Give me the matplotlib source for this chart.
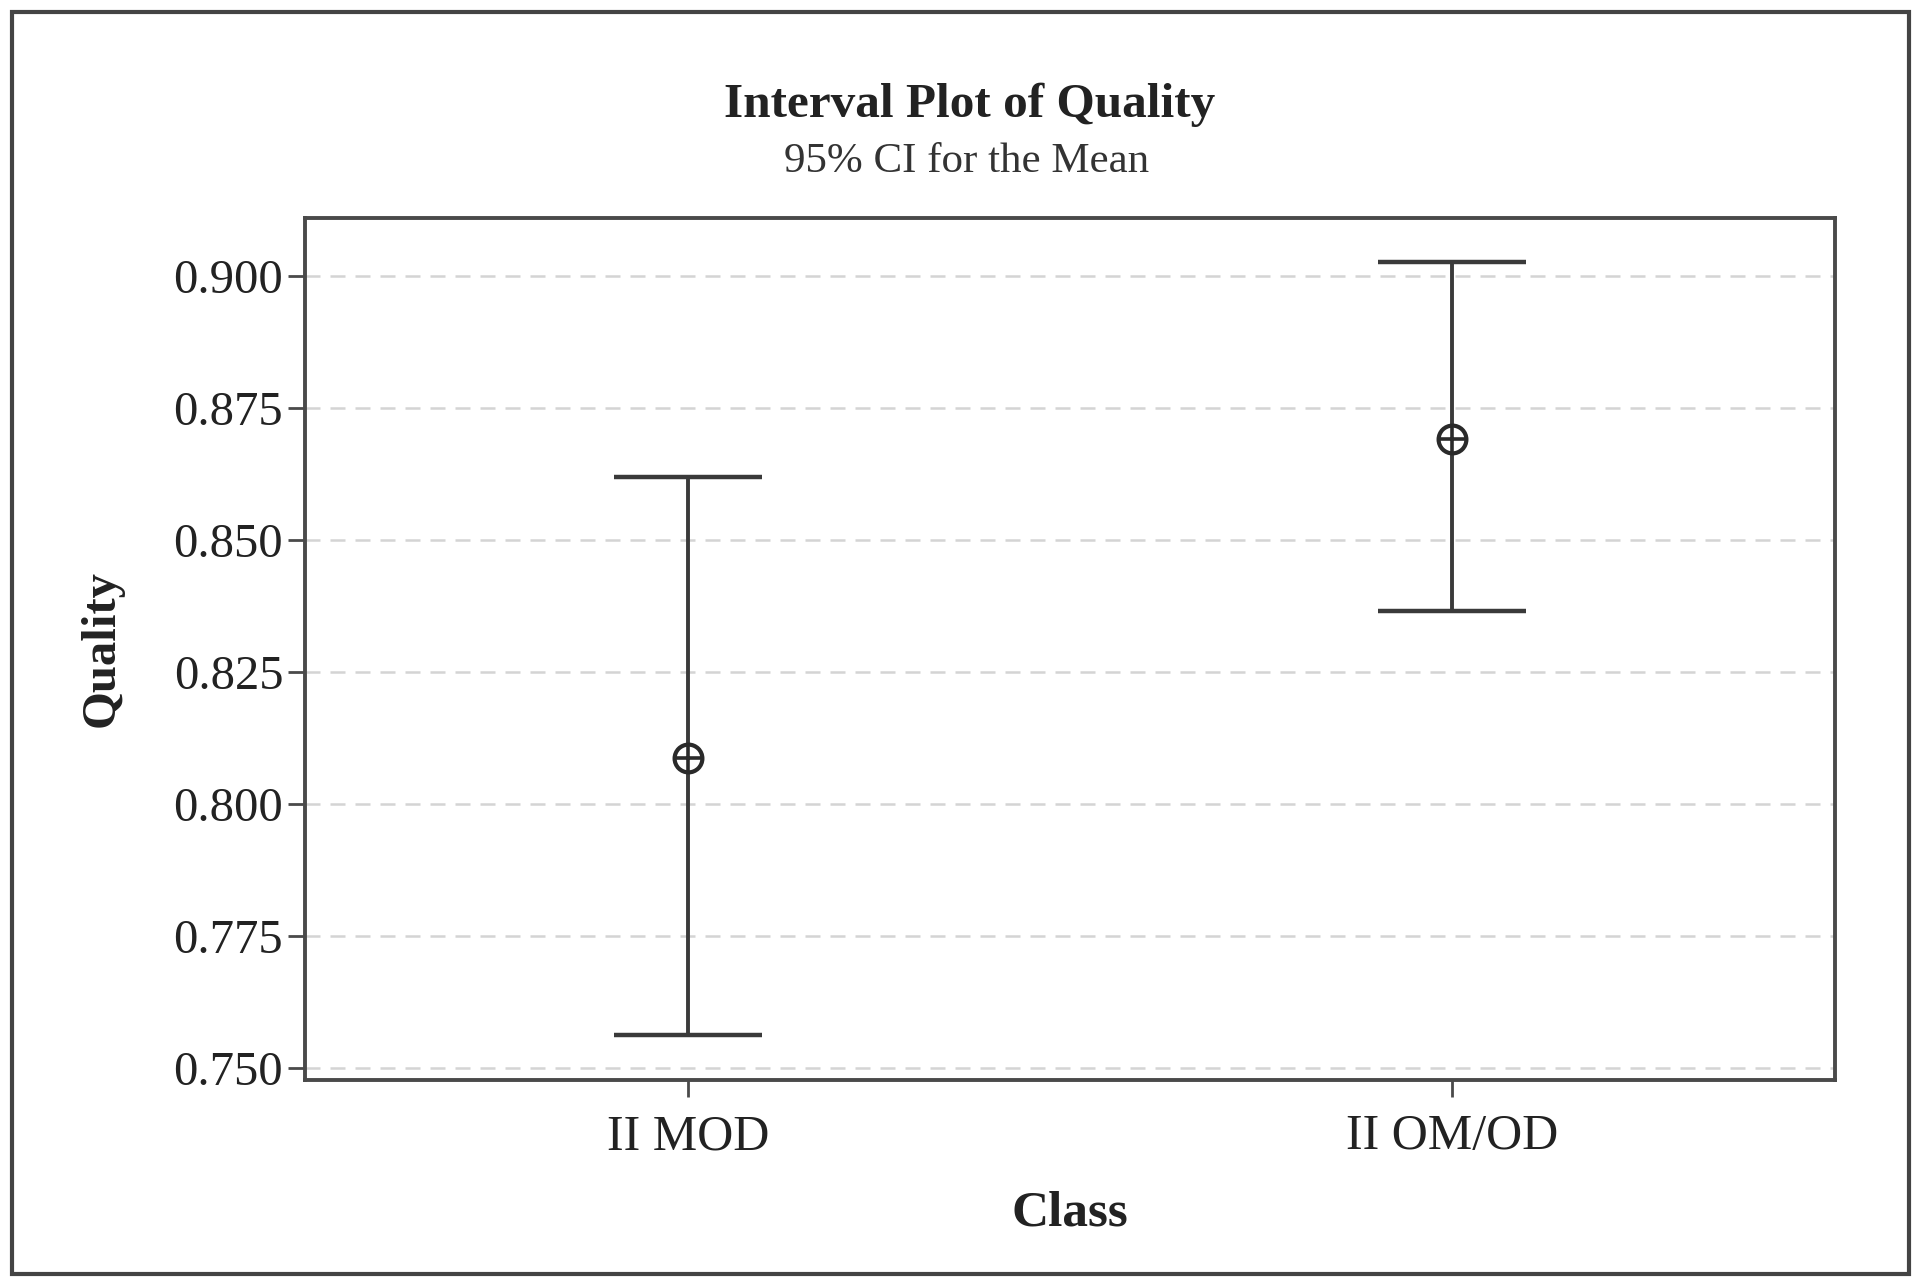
import matplotlib
matplotlib.use('Agg')
import matplotlib.pyplot as plt
from matplotlib.patches import Rectangle

# data
classes = ['II MOD', 'II OM/OD']
means = [0.8088, 0.8691]
lower = [0.7563, 0.8366]
upper = [0.8619, 0.9026]
yticks = [0.750, 0.775, 0.800, 0.825, 0.850, 0.875, 0.900]

plt.rcParams['font.family'] = ['Liberation Serif', 'DejaVu Serif']

fig = plt.figure(figsize=(19.21, 12.8), dpi=100)
ax = fig.add_axes([0.159, 0.156, 0.796, 0.674])

x = list(range(len(classes)))
err_lo = [m - l for m, l in zip(means, lower)]
err_hi = [u - m for m, u in zip(means, upper)]

ax.errorbar(x, means, yerr=[err_lo, err_hi], fmt='none', ecolor='#3a3a3a',
            elinewidth=2.8, capsize=53, capthick=3.2, zorder=3)
ax.plot(x, means, 'o', ms=20, mfc='white', mec='#2a2a2a', mew=3, zorder=4)
ax.plot(x, means, '+', ms=20, color='#2a2a2a', mew=2.6, zorder=5)

ax.set_xlim(-0.5, 1.5)
ax.set_ylim(0.7477, 0.911)
ax.set_xticks(x)
ax.set_xticklabels(classes)
ax.set_yticks(yticks)
ax.set_yticklabels([f'{v:.3f}' for v in yticks])

ax.grid(axis='y', linestyle=(0, (6, 4)), color='#d4d4d4', linewidth=1.8, zorder=0)
for s in ax.spines.values():
    s.set_color('#4a4a4a')
    s.set_linewidth(2.8)
ax.tick_params(axis='y', direction='out', length=12, width=2, color='#4a4a4a',
               labelsize=35, labelcolor='#222222', pad=4)
ax.tick_params(axis='x', direction='out', length=12, width=2, color='#4a4a4a',
               labelsize=36, labelcolor='#222222', pad=12)

ax.set_xlabel('Class', fontsize=37, fontweight='bold', labelpad=22, color='#222222')
ax.set_ylabel('Quality', fontsize=35, fontweight='bold', labelpad=36, color='#222222')

fig.text(0.505, 0.918, 'Interval Plot of Quality', ha='center', va='center',
         fontsize=35.5, fontweight='bold', color='#222222')
fig.text(0.503, 0.874, '95% CI for the Mean', ha='center', va='center',
         fontsize=31, color='#333333')

# outer frame around the whole picture
fig.patches.append(Rectangle((0.006, 0.005), 0.988, 0.986, transform=fig.transFigure,
                             fill=False, edgecolor='#444444', linewidth=3))

fig.savefig('out.png', dpi=100, facecolor='white')
